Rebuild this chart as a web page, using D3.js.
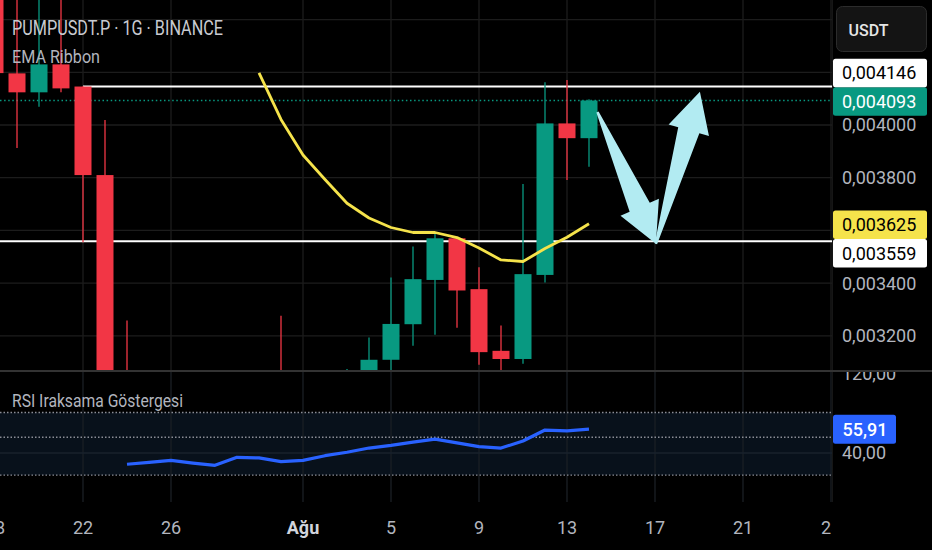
<!DOCTYPE html>
<html><head><meta charset="utf-8">
<script src="https://cdn.jsdelivr.net/npm/d3@7"></script>
<style>
html,body{margin:0;padding:0;background:#000;overflow:hidden}
svg{display:block}
</style></head><body>
<svg id="c" width="932" height="550"></svg>
<script>
// ---------------- DATA ----------------
const candleDates = ["2025-07-18","2025-07-19","2025-07-20","2025-07-21","2025-07-22","2025-07-23","2025-07-24",
  "2025-07-31","2025-08-03","2025-08-04","2025-08-05","2025-08-06","2025-08-07","2025-08-08","2025-08-09",
  "2025-08-10","2025-08-11","2025-08-12","2025-08-13","2025-08-14"];
const opens  = [0.004550,0.004196,0.004124,0.004230,0.004146,0.003810,0.003068,0.003050,0.003000,0.003030,0.003109,0.003244,0.003412,0.003570,0.003377,0.003143,0.003112,0.003431,0.004006,0.003950];
const highs  = [0.004700,0.004620,0.004580,0.004520,0.004146,0.004019,0.003258,0.003276,0.003074,0.003194,0.003421,0.003539,0.003589,0.003572,0.003460,0.003239,0.003776,0.004162,0.004171,0.004098];
const lows   = [0.004190,0.003913,0.004069,0.004124,0.003555,0.002850,0.002960,0.002960,0.002950,0.003000,0.003060,0.003162,0.003204,0.003231,0.003090,0.003050,0.003094,0.003402,0.003791,0.003842];
const closes = [0.004197,0.004124,0.004230,0.004139,0.003810,0.003000,0.003000,0.003000,0.003040,0.003109,0.003245,0.003415,0.003570,0.003372,0.003138,0.003112,0.003434,0.004006,0.003950,0.004093];

const emaDates = ["2025-07-30","2025-07-31","2025-08-01","2025-08-02","2025-08-03","2025-08-04","2025-08-05","2025-08-06",
  "2025-08-07","2025-08-08","2025-08-09","2025-08-10","2025-08-11","2025-08-12","2025-08-13","2025-08-14"];
const emaValues = [0.004198,0.004021,0.003886,0.003793,0.003703,0.003647,0.003611,0.003592,0.003592,0.003573,0.003533,0.003488,0.003482,0.003531,0.003574,0.003625];

const rsiDates = ["2025-07-24","2025-07-25","2025-07-26","2025-07-27","2025-07-28","2025-07-29","2025-07-30","2025-07-31",
  "2025-08-01","2025-08-02","2025-08-03","2025-08-04","2025-08-05","2025-08-06","2025-08-07","2025-08-08","2025-08-09",
  "2025-08-10","2025-08-11","2025-08-12","2025-08-13","2025-08-14"];
const rsiValues = [32.5,33.8,35.1,33.3,31.8,37.1,36.7,34.2,35.1,38.2,40.5,43.3,45.1,47.3,49.3,46.7,44.2,43.3,48.0,55.3,54.7,55.91];
const rsiLevels = [67, 50.5, 25.3];
const rsiGridLevel = 40;

const priceTicks = [0.0032,0.0034,0.0036,0.0038,0.0040,0.0042,0.0044];
const timeTicks = ["2025-07-18","2025-07-22","2025-07-26","2025-08-01","2025-08-05","2025-08-09","2025-08-13","2025-08-17","2025-08-21","2025-08-25"];
const timeTickLabels = ["18","22","26","Ağu","5","9","13","17","21","25"];

const hLineValues = [0.004146, 0.003559];
const hLineStarts = ["2025-07-22", "2025-07-01"];
const lastPrice = 0.004093;
const emaLast = 0.003625;
const rsiLast = 55.91;

const arrowTails = [["2025-08-14T09:15:00Z",0.004049],["2025-08-17T01:00:00Z",0.003549]];
const arrowTips  = [["2025-08-17T01:00:00Z",0.003549],["2025-08-19T01:00:00Z",0.004126]];

// ---------------- SETUP ----------------
const W = 932, H = 550, plotR = 832, mainB = 371, rsiT = 372, rsiB = 502;
const svg = d3.select("#c");
const pd = s => new Date(s.length === 10 ? s + "T00:00:00Z" : s);
const fmtP = v => v.toFixed(6).replace(".", ",");
const fmtR = v => v.toFixed(2).replace(".", ",");

const x = d3.scaleUtc().domain([pd("2025-07-22"), pd("2025-08-25")]).range([83, 831]);
const y = d3.scaleLinear().domain([0.0032, 0.0040]).range([335.8, 125]);
const ry = d3.scaleLinear().domain([0, 100]).range([513, 363]);

const UP = "#089981", DN = "#f23645", GRID = "#1c1c1c", TXT = "#b2b5be";
const FONT = "Roboto, 'Noto Sans', sans-serif";

svg.append("rect").attr("width", W).attr("height", H).attr("fill", "#000");

const defs = svg.append("defs");
defs.append("clipPath").attr("id", "cm").append("rect").attr("x", 0).attr("y", 0).attr("width", plotR).attr("height", mainB);
defs.append("clipPath").attr("id", "cr").append("rect").attr("x", 0).attr("y", rsiT).attr("width", plotR).attr("height", rsiB - rsiT);
defs.append("clipPath").attr("id", "ct").append("rect").attr("x", 0).attr("y", rsiB).attr("width", plotR).attr("height", H - rsiB);
defs.append("clipPath").attr("id", "ca").append("rect").attr("x", plotR).attr("y", rsiT).attr("width", W - plotR).attr("height", rsiB - rsiT);

// ---------------- MAIN PANE ----------------
const main = svg.append("g").attr("clip-path", "url(#cm)");
main.selectAll(".hg").data(priceTicks).join("line")
  .attr("x1", 0).attr("x2", plotR).attr("y1", d => y(d)).attr("y2", d => y(d))
  .attr("stroke", GRID).attr("stroke-width", 1.3);
main.selectAll(".vg").data(timeTicks).join("line")
  .attr("x1", d => x(pd(d))).attr("x2", d => x(pd(d))).attr("y1", 0).attr("y2", mainB)
  .attr("stroke", GRID).attr("stroke-width", 1.3);

main.selectAll(".hl").data(hLineValues).join("line")
  .attr("x1", (d, i) => Math.max(0, x(pd(hLineStarts[i])))).attr("x2", plotR)
  .attr("y1", d => y(d)).attr("y2", d => y(d))
  .attr("stroke", "#ffffff").attr("stroke-width", 2);
main.append("line").attr("x1", 0).attr("x2", plotR).attr("y1", y(lastPrice)).attr("y2", y(lastPrice))
  .attr("stroke", UP).attr("stroke-width", 1.4).attr("stroke-dasharray", "1.5,2.6");

const candles = candleDates.map((d, i) => ({ d: pd(d), o: opens[i], h: highs[i], l: lows[i], c: closes[i] }));
const cg = main.selectAll(".cd").data(candles).join("g");
cg.append("line").attr("x1", d => x(d.d)).attr("x2", d => x(d.d))
  .attr("y1", d => y(d.h)).attr("y2", d => y(d.l))
  .attr("stroke", d => d.c >= d.o ? UP : DN).attr("stroke-width", 1.3);
cg.append("rect").attr("x", d => x(d.d) - 8.5).attr("width", 17)
  .attr("y", d => y(Math.max(d.o, d.c))).attr("height", d => Math.max(1, Math.abs(y(d.o) - y(d.c))))
  .attr("fill", d => d.c >= d.o ? UP : DN);

main.append("path").datum(emaDates.map((d, i) => [pd(d), emaValues[i]]))
  .attr("d", d3.line().x(d => x(d[0])).y(d => y(d[1])))
  .attr("fill", "none").attr("stroke", "#f5e34b").attr("stroke-width", 2.8).attr("stroke-linejoin", "round");

function arrowPoly(t, p) {
  const Lh = 40, Wh = 21, Ws = 11, Wt = 1.2;
  const dx = p[0] - t[0], dy = p[1] - t[1], len = Math.hypot(dx, dy);
  const ux = dx / len, uy = dy / len, nx = -uy, ny = ux;
  const bx = p[0] - ux * Lh, by = p[1] - uy * Lh;
  return [[t[0] + nx * Wt, t[1] + ny * Wt], [bx + nx * Ws, by + ny * Ws], [bx + nx * Wh, by + ny * Wh], p,
          [bx - nx * Wh, by - ny * Wh], [bx - nx * Ws, by - ny * Ws], [t[0] - nx * Wt, t[1] - ny * Wt]];
}
main.selectAll(".ar").data(arrowTails.map((t, i) => [t, arrowTips[i]])).join("polygon")
  .attr("points", d => arrowPoly([x(pd(d[0][0])), y(d[0][1])], [x(pd(d[1][0])), y(d[1][1])]).map(p => p.join(",")).join(" "))
  .attr("fill", "#b2ebf2");

svg.append("text").attr("x", 12).attr("y", 35).attr("font-family", FONT).attr("font-size", 20)
  .attr("fill", "#c8cad0").attr("textLength", 211).attr("lengthAdjust", "spacingAndGlyphs")
  .text("PUMPUSDT.P · 1G · BINANCE");
svg.append("text").attr("x", 12).attr("y", 63.3).attr("font-family", FONT).attr("font-size", 18.5)
  .attr("fill", TXT).attr("textLength", 88).attr("lengthAdjust", "spacingAndGlyphs")
  .text("EMA Ribbon");

// ---------------- RSI PANE ----------------
const rp = svg.append("g").attr("clip-path", "url(#cr)");
rp.append("rect").attr("x", 0).attr("width", plotR)
  .attr("y", ry(d3.max(rsiLevels))).attr("height", ry(d3.min(rsiLevels)) - ry(d3.max(rsiLevels)))
  .attr("fill", "#08111b");
rp.selectAll(".vg").data(timeTicks).join("line")
  .attr("x1", d => x(pd(d))).attr("x2", d => x(pd(d))).attr("y1", rsiT).attr("y2", rsiB)
  .attr("stroke", "#1b1f25").attr("stroke-width", 1.3);
rp.append("line").attr("x1", 0).attr("x2", plotR).attr("y1", ry(rsiGridLevel)).attr("y2", ry(rsiGridLevel))
  .attr("stroke", "#19222c").attr("stroke-width", 1.5);
rp.selectAll(".lv").data(rsiLevels).join("line")
  .attr("x1", 0).attr("x2", plotR).attr("y1", d => ry(d)).attr("y2", d => ry(d))
  .attr("stroke", "#8a8d96").attr("stroke-width", 1.3).attr("stroke-dasharray", "1.5,2");
rp.append("path").datum(rsiDates.map((d, i) => [pd(d), rsiValues[i]]))
  .attr("d", d3.line().x(d => x(d[0])).y(d => ry(d[1])))
  .attr("fill", "none").attr("stroke", "#2962ff").attr("stroke-width", 3.2).attr("stroke-linejoin", "round");
svg.append("text").attr("x", 12).attr("y", 406.7).attr("font-family", FONT).attr("font-size", 19)
  .attr("fill", TXT).attr("textLength", 171).attr("lengthAdjust", "spacingAndGlyphs")
  .text("RSI Iraksama Göstergesi");

// ---------------- PANE SEPARATORS ----------------
svg.append("line").attr("x1", plotR + 0.5).attr("x2", plotR + 0.5).attr("y1", 0).attr("y2", rsiB)
  .attr("stroke", "#161616").attr("stroke-width", 1);
svg.append("line").attr("x1", 0).attr("x2", W).attr("y1", mainB).attr("y2", mainB)
  .attr("stroke", "#333333").attr("stroke-width", 2);

// ---------------- PRICE AXIS ----------------
const ax = svg.append("g");
const BH = 28.5;
const fixed = [
  { v: lastPrice, bg: UP, fg: "#ffffff" },
  { v: emaLast, bg: "#f5e34b", fg: "#000000" }
].map(d => ({ ...d, cy: y(d.v) + 1 }));
const movable = hLineValues.map(v => ({ v, bg: "#ffffff", fg: "#000000", cy: y(v) }));
movable.forEach(m => {
  fixed.forEach(f => {
    if (Math.abs(m.cy - f.cy) < BH) m.cy = m.cy < f.cy ? f.cy - BH : f.cy + BH;
  });
});
const boxes = fixed.concat(movable);
const btn = { top: 6.5, bottom: 51.5 };

// tick labels hidden where a price label box or the currency button sits (as the source does)
const occupied = boxes.map(b => [b.cy - BH / 2, b.cy + BH / 2]).concat([[btn.top, btn.bottom]]);
const visibleTicks = priceTicks.filter(t => {
  const c = y(t);
  return !occupied.some(([a, b]) => c + 8 > a && c - 8 < b);
});
ax.selectAll(".pt").data(visibleTicks).join("text")
  .attr("x", 842).attr("y", d => y(d)).attr("dy", "0.36em")
  .attr("font-family", FONT).attr("font-size", 18).attr("fill", TXT)
  .text(d => fmtP(d));

const bg = ax.selectAll(".bx").data(boxes).join("g");
bg.append("rect").attr("x", 833).attr("width", 94).attr("y", d => d.cy - BH / 2).attr("height", BH)
  .attr("rx", 2.5).attr("fill", d => d.bg);
bg.append("text").attr("x", 842).attr("y", d => d.cy).attr("dy", "0.36em")
  .attr("font-family", FONT).attr("font-size", 18).attr("fill", d => d.fg)
  .text(d => fmtP(d.v));

ax.append("rect").attr("x", 836.5).attr("y", btn.top).attr("width", 90).attr("height", btn.bottom - btn.top).attr("rx", 6)
  .attr("fill", "#141414").attr("stroke", "#2c2c2c").attr("stroke-width", 1);
ax.append("text").attr("x", 848.5).attr("y", 36).attr("font-family", FONT).attr("font-size", 16)
  .attr("font-weight", 500).attr("fill", "#e6e6e6").text("USDT");

// RSI axis
const ra = svg.append("g").attr("clip-path", "url(#ca)");
ra.append("text").attr("x", 842).attr("y", 380).attr("font-family", FONT).attr("font-size", 18)
  .attr("fill", TXT).text("120,00");
ra.append("text").attr("x", 842).attr("y", ry(rsiGridLevel)).attr("dy", "0.36em").attr("font-family", FONT)
  .attr("font-size", 18).attr("fill", TXT).text(fmtR(rsiGridLevel));
ra.append("rect").attr("x", 833).attr("width", 63).attr("y", ry(rsiLast) - 14.5).attr("height", 29)
  .attr("rx", 2.5).attr("fill", "#2962ff");
ra.append("text").attr("x", 842.5).attr("y", ry(rsiLast)).attr("dy", "0.36em").attr("font-family", FONT)
  .attr("font-size", 18).attr("font-weight", 500).attr("fill", "#ffffff").text(fmtR(rsiLast));

// ---------------- TIME AXIS ----------------
const ta = svg.append("g").attr("clip-path", "url(#ct)");
ta.selectAll(".tl").data(timeTicks).join("text")
  .attr("x", d => x(pd(d))).attr("y", 534).attr("text-anchor", "middle")
  .attr("font-family", FONT).attr("font-size", 18)
  .attr("font-weight", (d, i) => timeTickLabels[i] === "Ağu" ? 700 : 400)
  .attr("fill", (d, i) => timeTickLabels[i] === "Ağu" ? "#d1d4dc" : TXT)
  .text((d, i) => timeTickLabels[i]);
</script>
</body></html>
